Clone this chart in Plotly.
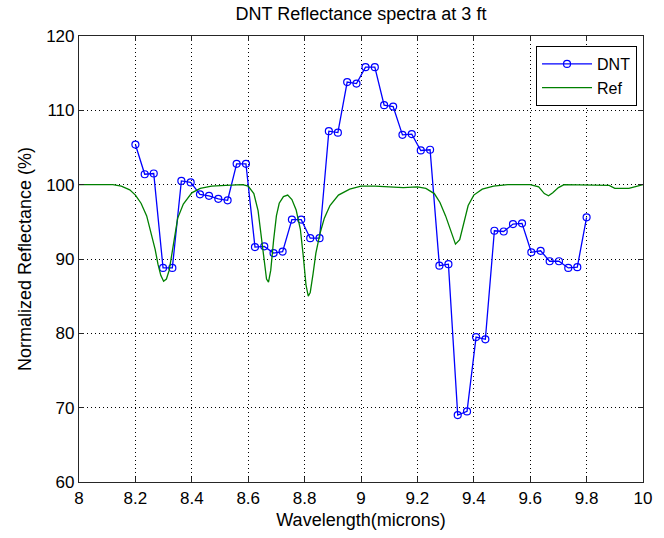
import plotly.graph_objects as go

# DNT measured spectrum
dnt_x = [8.2, 8.233, 8.265, 8.298, 8.331, 8.363, 8.396, 8.429, 8.461, 8.494,
         8.527, 8.559, 8.592, 8.624, 8.657, 8.69, 8.722, 8.755, 8.788, 8.82,
         8.853, 8.886, 8.918, 8.951, 8.984, 9.016, 9.049, 9.082, 9.114, 9.147,
         9.18, 9.212, 9.245, 9.278, 9.31, 9.343, 9.376, 9.408, 9.441, 9.473,
         9.506, 9.539, 9.571, 9.604, 9.637, 9.669, 9.702, 9.735, 9.767, 9.8]
dnt_y = [105.4, 101.4, 101.5, 88.8, 88.8, 100.5, 100.3, 98.7, 98.5, 98.1,
         97.9, 102.8, 102.8, 91.6, 91.7, 90.8, 91.0, 95.3, 95.3, 92.8,
         92.8, 107.2, 107.0, 113.8, 113.6, 115.8, 115.8, 110.7, 110.5, 106.7,
         106.8, 104.6, 104.7, 89.1, 89.3, 69.0, 69.5, 79.5, 79.2, 93.8,
         93.7, 94.7, 94.8, 90.9, 91.1, 89.7, 89.7, 88.8, 88.9, 95.6]

# Reference spectrum
ref_x = [8.00, 8.05, 8.08, 8.12, 8.15, 8.18, 8.20, 8.22, 8.24, 8.26,
         8.27, 8.28, 8.29, 8.30, 8.31, 8.32, 8.33, 8.34, 8.35, 8.37,
         8.40, 8.43, 8.47, 8.52, 8.58, 8.60, 8.62, 8.635, 8.645, 8.655,
         8.665, 8.672, 8.68, 8.69, 8.70, 8.71, 8.725, 8.74, 8.755, 8.77,
         8.785, 8.795, 8.805, 8.813, 8.82, 8.83, 8.84, 8.855, 8.87, 8.89,
         8.92, 8.96, 9.00, 9.05, 9.10, 9.15, 9.20, 9.23, 9.26, 9.28,
         9.30, 9.32, 9.335, 9.35, 9.365, 9.38, 9.40, 9.43, 9.47, 9.52,
         9.60, 9.63, 9.65, 9.665, 9.68, 9.70, 9.72, 9.80, 9.85, 9.88,
         9.90, 9.95, 9.98, 10.00]
ref_y = [100.0, 100.0, 100.1, 100.0, 99.8, 99.3, 98.6, 97.5, 95.8, 93.0,
         91.3, 89.3, 87.8, 87.0, 87.3, 88.5, 91.0, 93.5, 95.5, 97.4,
         98.9, 99.5, 99.8, 99.9, 100.0, 99.8, 98.8, 96.5, 93.5, 90.0,
         87.3, 86.9, 88.5, 92.5, 95.8, 97.5, 98.4, 98.6, 98.0, 96.6,
         94.0, 90.5, 86.5, 85.0, 85.5, 88.0, 90.8, 93.5, 95.5, 97.2,
         98.6, 99.4, 99.8, 99.8, 99.7, 99.6, 99.7, 99.5, 98.8, 97.6,
         95.8, 93.6, 92.0, 92.6, 95.0, 97.2, 98.6, 99.4, 99.8, 100.0,
         100.0, 99.7, 98.8, 98.5, 98.9, 99.6, 100.0, 100.0, 100.0, 99.9,
         99.5, 99.5, 99.8, 100.0]

x_ticks = [8, 8.2, 8.4, 8.6, 8.8, 9, 9.2, 9.4, 9.6, 9.8, 10]
x_labels = ["8", "8.2", "8.4", "8.6", "8.8", "9", "9.2", "9.4", "9.6", "9.8", "10"]
y_ticks = [60, 70, 80, 90, 100, 110, 120]

FONT = "Liberation Sans, Arial, Helvetica, sans-serif"

fig = go.Figure()
fig.add_trace(go.Scatter(
    x=dnt_x, y=dnt_y, mode="lines+markers", name="DNT",
    line=dict(color="#0000FF", width=1.3),
    marker=dict(symbol="circle-open", size=7, color="#0000FF", line=dict(width=1.2)),
))
fig.add_trace(go.Scatter(
    x=ref_x, y=ref_y, mode="lines", name="Ref",
    line=dict(color="#008000", width=1.3),
))

axis_common = dict(
    showline=True, linecolor="#262626", linewidth=1.2, mirror="allticks",
    ticks="inside", ticklen=5, tickcolor="#262626",
    showgrid=True, gridcolor="#000000", gridwidth=1, griddash="1px,3px",
    zeroline=False, tickfont=dict(family=FONT, size=17, color="#000000"),
)

fig.update_layout(
    width=664, height=538,
    paper_bgcolor="white", plot_bgcolor="white",
    margin=dict(l=79, r=17, t=36, b=55),
    font=dict(family=FONT, size=17, color="#000000"),
    title=dict(text="DNT Reflectance spectra at 3 ft", x=0.5, xanchor="center",
               xref="paper", yref="container", y=1 - 14 / 538, yanchor="middle",
               font=dict(family=FONT, size=18, color="#000000")),
    xaxis=dict(range=[8, 10], tickvals=x_ticks, ticktext=x_labels,
               title=dict(text="Wavelength(microns)", standoff=6,
                          font=dict(family=FONT, size=18)),
               **axis_common),
    yaxis=dict(range=[60, 120], tickvals=y_ticks,
               title=dict(text="Normalized Reflectance (%)", standoff=9,
                          font=dict(family=FONT, size=18)),
               **axis_common),
    legend=dict(x=0.9894, y=0.9776, xanchor="right", yanchor="top",
                bgcolor="white", bordercolor="#000000", borderwidth=1,
                font=dict(family=FONT, size=16, color="#000000"),
                itemwidth=50, tracegroupgap=0),
    showlegend=True,
)

fig.write_html("out.html", config={"displayModeBar": False},
               post_script="document.body.style.margin='0px';")
